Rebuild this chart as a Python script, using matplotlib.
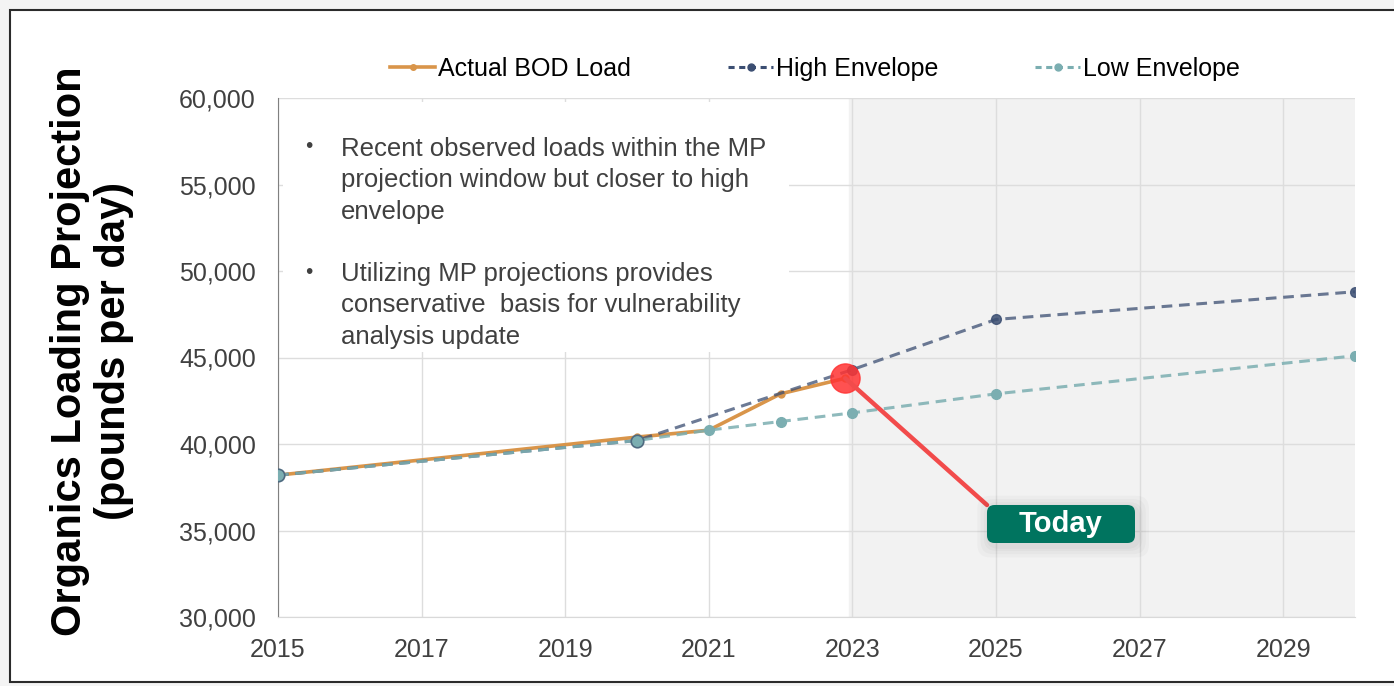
import numpy as np
import matplotlib
matplotlib.use("Agg")
import matplotlib.pyplot as plt
from matplotlib.patches import Rectangle, FancyBboxPatch
from matplotlib.ticker import StrMethodFormatter

plt.rcParams['font.family'] = ['Liberation Sans', 'DejaVu Sans']

# data
actual_years = [2015, 2020, 2021, 2022, 2022.9]
actual_load = [38200, 40400, 40800, 42900, 43800]
high_years = [2015, 2020, 2023, 2025, 2030]
high_load = [38200, 40200, 44300, 47200, 48800]
low_years = [2015, 2020, 2021, 2022, 2023, 2025, 2030]
low_load = [38200, 40200, 40800, 41300, 41800, 42900, 45100]
today_year = 2022.9
today_load = 43800
x_ticks = [2015, 2017, 2019, 2021, 2023, 2025, 2027, 2029]
y_ticks = [30000, 35000, 40000, 45000, 50000, 55000, 60000]

c_actual = '#D9954A'
c_high = '#3B4E72'
c_low = '#7BAEB1'
txt = '#404040'

fig = plt.figure(figsize=(13.94, 6.86), dpi=100)
fig.patch.set_facecolor('#F4F4F4')
# slide frame
fig.patches.append(Rectangle((10 / 1394, 4 / 686), 1.0, 672 / 686, transform=fig.transFigure,
                             facecolor='white', edgecolor='#2B2B2B', lw=1.5, zorder=-10))

ax = fig.add_axes([278 / 1394, 69 / 686, 1077 / 1394, 519 / 686])
ax.set_zorder(1)
ax.set_xlim(2015, 2030)
ax.set_ylim(30000, 60000)

# projection window shading
ax.axvspan(2022.95, 2030, color='#F2F2F2', zorder=0)

ax.set_xticks(x_ticks)
ax.set_yticks(y_ticks)
ax.yaxis.set_major_formatter(StrMethodFormatter('{x:,.0f}'))
ax.grid(True, color='#DDDDDD', lw=1)
ax.set_axisbelow(True)
ax.tick_params(length=0, labelsize=18, colors=txt)
ax.tick_params(axis='y', pad=16)
ax.tick_params(axis='x', pad=15)
for s in ['top', 'right']:
    ax.spines[s].set_visible(False)
ax.spines['left'].set_color('#808080')
ax.spines['bottom'].set_color('#D9D9D9')

# white box behind the notes
ax.add_patch(Rectangle((2015.07, 45300), 7.05, 14450, facecolor='white', edgecolor='none', zorder=1.5))

ax.plot(actual_years, actual_load, color=c_actual, lw=2.6, marker='o', ms=5, zorder=3,
        label='Actual BOD Load')
ax.plot(high_years, high_load, color=c_high, lw=2.2, ls=(0, (3.5, 2.2)), alpha=0.75, zorder=3)
ax.plot(high_years, high_load, color=c_high, lw=0, marker='o', ms=7, zorder=3.5, alpha=0.85)
ax.plot(low_years, low_load, color=c_low, lw=2.2, ls=(0, (3.5, 2.2)), alpha=0.85, zorder=4)
ax.plot(low_years[:2], low_load[:2], lw=0, marker='o', ms=9, color=c_low, mec='#4E6A80', mew=1.2, zorder=4.5)
ax.plot(low_years[2:], low_load[2:], lw=0, marker='o', ms=7, color=c_low, zorder=4.5)

# legend handles
h1, = ax.plot([], [], color=c_actual, lw=2.6, marker='o', ms=4)
h2, = ax.plot([], [], color=c_high, lw=2.2, ls=(0, (2, 1.5)), marker='o', ms=5)
h3, = ax.plot([], [], color=c_low, lw=2.2, ls=(0, (2, 1.5)), marker='o', ms=5)
fig.legend([h1, h2, h3], ['Actual BOD Load', 'High Envelope', 'Low Envelope'],
           loc='center', bbox_to_anchor=(815 / 1394, 1 - 69 / 686), ncol=3, frameon=False,
           fontsize=18, handlelength=1.8, handletextpad=0.1, columnspacing=3.9)

# notes
def axfrac(px, py):
    return (px - 278) / 1077, (617 - py) / 519

notes = ['Recent observed loads within the MP\nprojection window but closer to high\nenvelope',
         'Utilizing MP projections provides\nconservative  basis for vulnerability\nanalysis update']
for note, py in zip(notes, [147, 272]):
    bx, by = axfrac(309, py)
    ax.text(bx, by, '\u2022', transform=ax.transAxes, fontsize=15, color=txt, va='center', ha='center', zorder=5)
    tx, ty = axfrac(341, py - 10.5)
    ax.text(tx, ty, note, transform=ax.transAxes, fontsize=18.5, color=txt, va='top', ha='left',
            linespacing=1.42, zorder=5)

# today marker and label
ax.plot([today_year], [today_load], marker='o', ms=21, color='#FF3333', alpha=0.85, zorder=6)
bx0, by0 = axfrac(987, 543)
bw, bh = 148 / 1077, 38 / 519
aspect = 1077 / 519
for grow in [0.011, 0.008, 0.005, 0.003]:
    ax.add_patch(FancyBboxPatch((bx0 - grow + 0.002, by0 - grow * aspect - 0.005), bw + 2 * grow,
                                bh + 2 * grow * aspect, boxstyle='round,pad=0,rounding_size=0.012',
                                mutation_aspect=aspect, transform=ax.transAxes, fc='black',
                                ec='none', alpha=0.022, zorder=6.5))
ax.add_patch(FancyBboxPatch((bx0, by0), bw, bh, boxstyle='round,pad=0,rounding_size=0.007',
                            mutation_aspect=aspect, transform=ax.transAxes, fc='#00745F',
                            ec='none', zorder=7))
ax.text(bx0 + bw / 2, by0 + bh / 2, 'Today', transform=ax.transAxes, fontsize=21,
        fontweight='bold', color='white', ha='center', va='center', zorder=8)
ax.annotate('', xy=(today_year, today_load), xytext=(bx0, by0 + bh), textcoords='axes fraction',
            arrowprops=dict(arrowstyle='-', color='#F24B4B', lw=3.2, shrinkA=0, shrinkB=0),
            zorder=6.2)

fig.text(92 / 1394, 1 - 351 / 686, 'Organics Loading Projection\n(pounds per day)', rotation=90,
         fontsize=30, fontweight='bold', color='black', ha='center', va='center', linespacing=1.1)

fig.savefig('out.png', dpi=100, facecolor=fig.get_facecolor())
